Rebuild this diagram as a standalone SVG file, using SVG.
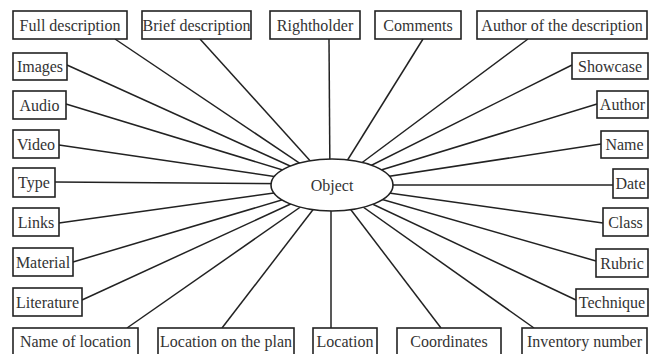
<svg xmlns="http://www.w3.org/2000/svg" width="654" height="354" viewBox="0 0 654 354">
<style>
.b{fill:#fff;stroke:#222;stroke-width:1.6}
.t{font-family:"Liberation Serif","Times New Roman",serif;font-size:16px;fill:#333;text-anchor:middle}
.c line{stroke:#222;stroke-width:1.5}
</style>
<rect width="654" height="354" fill="#fff"/>
<g class="c" id="connectors">
<line x1="115" y1="39" x2="332" y2="185"/>
<line x1="200" y1="39" x2="332" y2="185"/>
<line x1="329" y1="39" x2="330" y2="185"/>
<line x1="423" y1="39" x2="332" y2="185"/>
<line x1="528" y1="39" x2="332" y2="185"/>
<line x1="67" y1="65" x2="332" y2="185"/>
<line x1="66" y1="104" x2="332" y2="185"/>
<line x1="59" y1="145" x2="332" y2="185"/>
<line x1="55" y1="182" x2="332" y2="184"/>
<line x1="59" y1="223" x2="332" y2="185"/>
<line x1="73" y1="262" x2="332" y2="185"/>
<line x1="82" y1="300" x2="332" y2="185"/>
<line x1="572" y1="65" x2="332" y2="185"/>
<line x1="597" y1="104" x2="332" y2="185"/>
<line x1="601" y1="144" x2="332" y2="185"/>
<line x1="613" y1="185" x2="332" y2="185"/>
<line x1="603" y1="223" x2="332" y2="185"/>
<line x1="596" y1="261" x2="332" y2="185"/>
<line x1="576" y1="300" x2="332" y2="185"/>
<line x1="127" y1="328" x2="332" y2="185"/>
<line x1="222" y1="328" x2="332" y2="185"/>
<line x1="331" y1="328" x2="331" y2="185"/>
<line x1="441" y1="328" x2="332" y2="185"/>
<line x1="534" y1="328" x2="332" y2="185"/>
</g>
<g id="object"><ellipse class="b" cx="332" cy="185" rx="61" ry="26"/><text class="t" x="332" y="191">Object</text></g>
<g id="full-description"><rect class="b" x="13" y="11" width="114" height="28"/><text class="t" x="70" y="30.5">Full description</text></g>
<g id="brief-description"><rect class="b" x="142" y="11" width="109" height="28"/><text class="t" x="196.5" y="30.5">Brief description</text></g>
<g id="rightholder"><rect class="b" x="270" y="11" width="90" height="28"/><text class="t" x="315" y="30.5">Rightholder</text></g>
<g id="comments"><rect class="b" x="375" y="11" width="86" height="28"/><text class="t" x="418" y="30.5">Comments</text></g>
<g id="author-of-description"><rect class="b" x="477" y="11" width="170" height="28"/><text class="t" x="562" y="30.5">Author of the description</text></g>
<g id="images"><rect class="b" x="13" y="53" width="54" height="27"/><text class="t" x="40" y="72">Images</text></g>
<g id="audio"><rect class="b" x="13" y="91" width="53" height="28"/><text class="t" x="39.5" y="110.5">Audio</text></g>
<g id="video"><rect class="b" x="13" y="130" width="46" height="28"/><text class="t" x="36" y="149.5">Video</text></g>
<g id="type"><rect class="b" x="13" y="168" width="42" height="29"/><text class="t" x="34" y="188">Type</text></g>
<g id="links"><rect class="b" x="13" y="208" width="46" height="28"/><text class="t" x="36" y="227.5">Links</text></g>
<g id="material"><rect class="b" x="13" y="248" width="60" height="28"/><text class="t" x="43" y="267.5">Material</text></g>
<g id="literature"><rect class="b" x="13" y="288" width="69" height="28"/><text class="t" x="47.5" y="307.5">Literature</text></g>
<g id="showcase"><rect class="b" x="572" y="53" width="76" height="26"/><text class="t" x="610" y="71.5">Showcase</text></g>
<g id="author"><rect class="b" x="597" y="91" width="51" height="27"/><text class="t" x="622.5" y="110">Author</text></g>
<g id="name"><rect class="b" x="601" y="131" width="47" height="27"/><text class="t" x="624.5" y="150">Name</text></g>
<g id="date"><rect class="b" x="613" y="169" width="35" height="29"/><text class="t" x="630.5" y="189">Date</text></g>
<g id="class"><rect class="b" x="603" y="208" width="45" height="28"/><text class="t" x="625.5" y="227.5">Class</text></g>
<g id="rubric"><rect class="b" x="596" y="249" width="52" height="28"/><text class="t" x="622" y="268.5">Rubric</text></g>
<g id="technique"><rect class="b" x="576" y="289" width="72" height="27"/><text class="t" x="612" y="308">Technique</text></g>
<g id="name-of-location"><rect class="b" x="13" y="328" width="125" height="30"/><text class="t" x="75.5" y="347">Name of location</text></g>
<g id="location-on-plan"><rect class="b" x="158" y="328" width="136" height="30"/><text class="t" x="226" y="347">Location on the plan</text></g>
<g id="location"><rect class="b" x="313" y="328" width="64" height="30"/><text class="t" x="345" y="347">Location</text></g>
<g id="coordinates"><rect class="b" x="397" y="328" width="104" height="30"/><text class="t" x="449" y="347">Coordinates</text></g>
<g id="inventory-number"><rect class="b" x="522" y="328" width="125" height="30"/><text class="t" x="584.5" y="347">Inventory number</text></g>
</svg>
